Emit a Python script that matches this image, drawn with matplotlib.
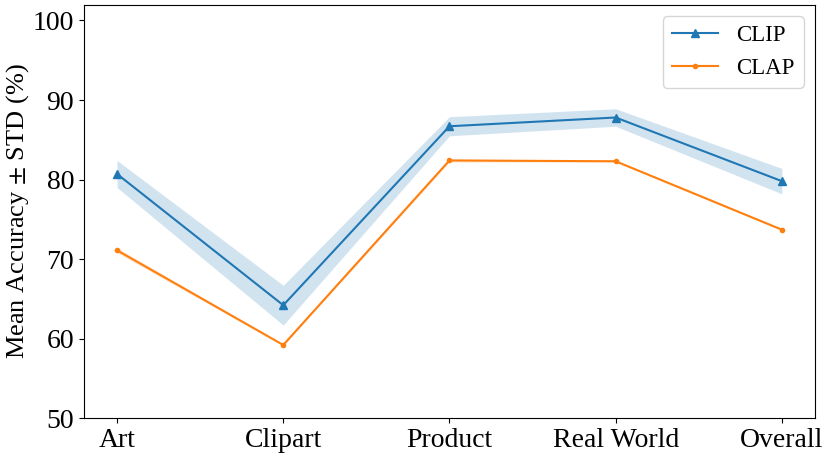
import matplotlib.pyplot as plt
import numpy as np

plt.rcParams['font.family'] = ['Liberation Serif', 'DejaVu Serif']
plt.rcParams['mathtext.fontset'] = 'stix'

domains = ['Art', 'Clipart', 'Product', 'Real World', 'Overall']
clip_mean = [80.7, 64.2, 86.7, 87.8, 79.8]
clip_std = [1.7, 2.5, 1.2, 1.1, 1.6]
clap_mean = [71.1, 59.2, 82.4, 82.3, 73.7]
clap_std = [0.3, 0.1, 0.2, 0.1, 0.1]

fig, ax = plt.subplots(figsize=(8.3, 4.57), dpi=100)
x = np.arange(len(domains))

ax.plot(x, clip_mean, marker='^', color='#1f77b4', label='CLIP')
ax.fill_between(x, np.array(clip_mean) - np.array(clip_std),
                np.array(clip_mean) + np.array(clip_std), color='#1f77b4', alpha=0.2, lw=0)
ax.plot(x, clap_mean, marker='.', color='#ff7f0e', label='CLAP')
ax.fill_between(x, np.array(clap_mean) - np.array(clap_std),
                np.array(clap_mean) + np.array(clap_std), color='#ff7f0e', alpha=0.2, lw=0)

ax.set_xticks(x)
ax.set_xticklabels(domains)
ax.set_ylim(50, 102)
ax.set_yticks([50, 60, 70, 80, 90, 100])
ax.tick_params(labelsize=20)
ax.set_ylabel('Mean Accuracy $\\pm$ STD (%)', fontsize=19, labelpad=1)
ax.legend(loc='upper right', fontsize=16.5)

plt.subplots_adjust(left=0.101, right=0.982, top=0.99, bottom=0.085)
plt.savefig('out.png')
